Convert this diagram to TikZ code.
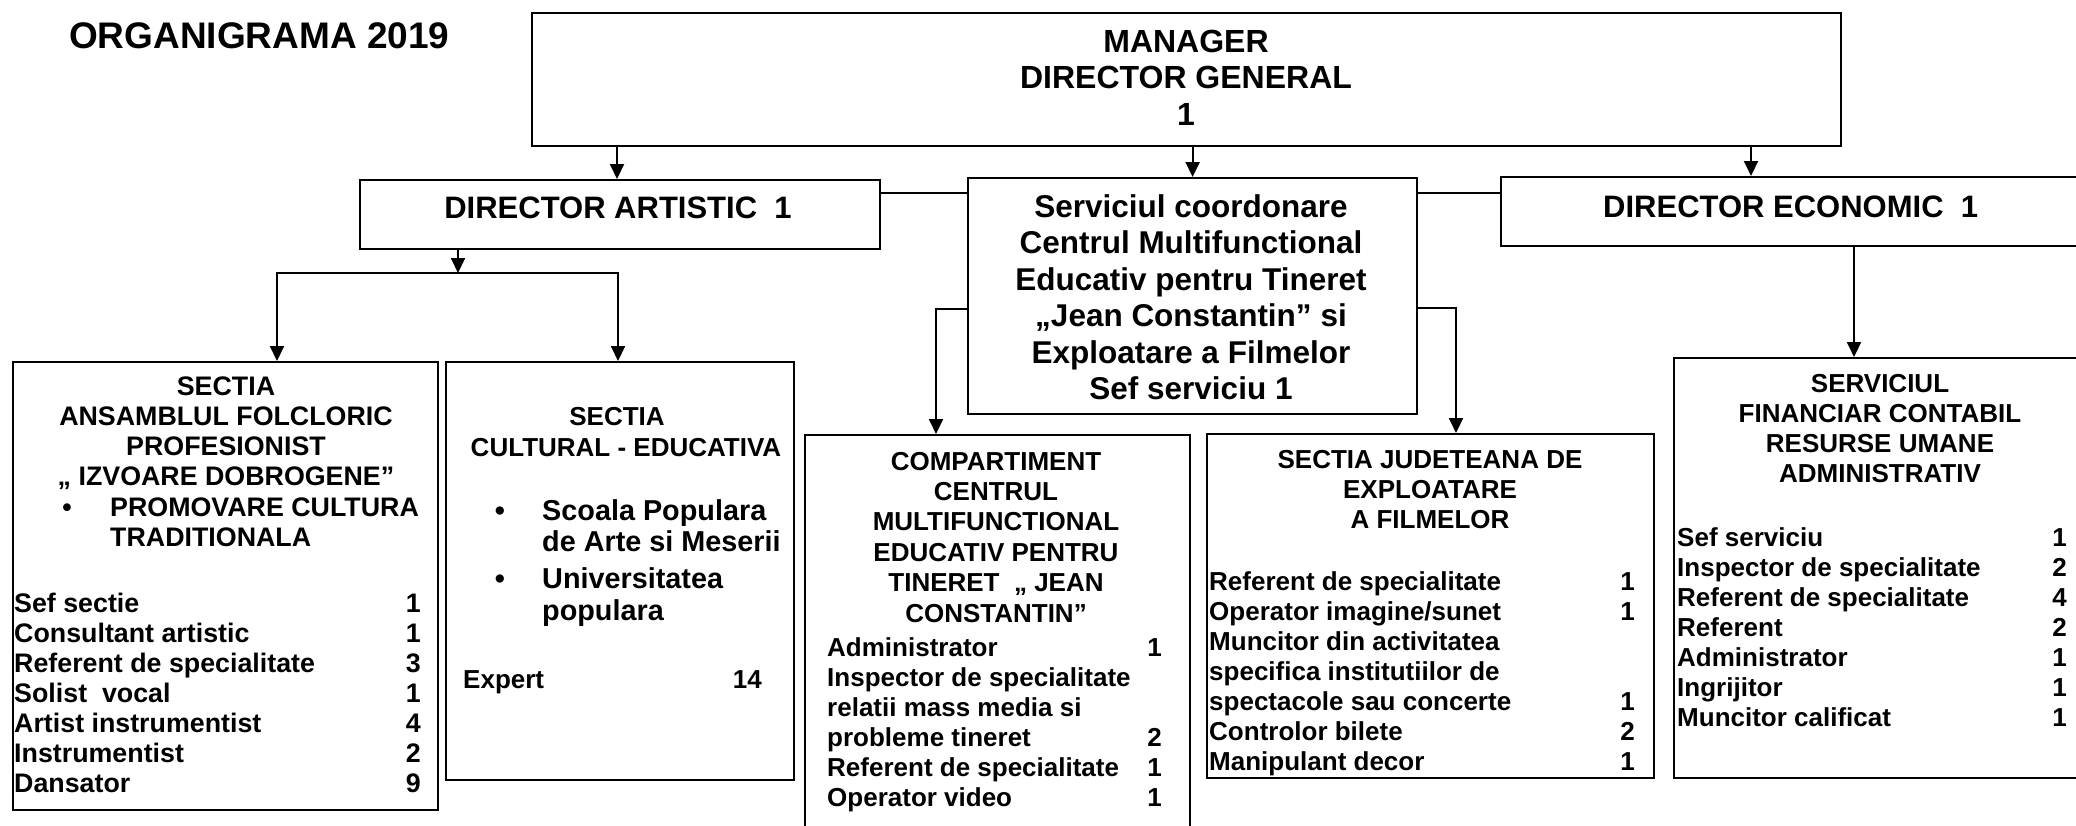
\documentclass[tikz,border=0pt]{standalone}
\usepackage{fontspec}
\setmainfont{Liberation Sans}
\usetikzlibrary{arrows.meta}
\newcommand\myitf{\bfseries\fontsize{26}{30}\selectfont}
\begin{document}
\begin{tikzpicture}[x=1pt,y=-1pt,
  box/.style={draw, line width=2.2pt, inner sep=0pt, anchor=north west},
  conn/.style={line width=2pt},
  arr/.style={conn, -{Triangle[length=15pt,width=14pt]}},
  hd/.style={inner sep=0pt, anchor=base, font=\myitf},
  it/.style={inner sep=0pt, anchor=base west, font=\myitf},
  nr/.style={inner sep=0pt, anchor=base east, font=\myitf},
  lf/.style={font=\bfseries\fontsize{26.8}{30}\selectfont},
  cb/.style={font=\bfseries\fontsize{28.8}{32}\selectfont},
  big/.style={font=\bfseries\fontsize{31.5}{36}\selectfont}]
\useasboundingbox (0,0) rectangle (2076,825);
\clip (0,0) rectangle (2076,825);
\fill[white] (0,0) rectangle (2076,825);

% title
\node[inner sep=0pt, anchor=base west, font=\bfseries\fontsize{37}{40}\selectfont] (title) at (69,48) {ORGANIGRAMA 2019};

% boxes
\node[box, minimum width=1309pt, minimum height=133pt] (mgr) at (531,12) {};
\node[box, minimum width=520pt, minimum height=69pt] (da) at (359,179) {};
\node[box, minimum width=449pt, minimum height=236pt] (svc) at (967,177) {};
\node[box, minimum width=620pt, minimum height=69pt] (de) at (1500,176) {};
\node[box, minimum width=425pt, minimum height=448pt] (sf) at (12,361) {};
\node[box, minimum width=348pt, minimum height=418pt] (sce) at (445,361) {};
\node[box, minimum width=385pt, minimum height=450pt] (comp) at (804,434) {};
\node[box, minimum width=447pt, minimum height=344pt] (jud) at (1206,433) {};
\node[box, minimum width=450pt, minimum height=420pt] (fin) at (1673,357) {};

% connectors
\coordinate (aDA) at (617,0);
\coordinate (aDE) at (1751,0);
\draw[arr] (aDA |- mgr.south) -- (aDA |- da.north);
\draw[arr] (svc.north |- mgr.south) -- (svc.north);
\draw[arr] (aDE |- mgr.south) -- (aDE |- de.north);
\draw[conn] (da.east |- 0,193) -- (svc.west |- 0,193);
\draw[conn] (svc.east |- 0,193) -- (de.west |- 0,193);
\coordinate (busM) at (458,273);
\coordinate (busL) at (277,273);
\coordinate (busR) at (618,273);
\draw[arr] (busM |- da.south) -- (busM);
\draw[arr] (busR) -- (busL) -- (busL |- sf.north);
\draw[arr] (busL) -- (busR) -- (busR |- sce.north);
\coordinate (cL) at (936,309);
\coordinate (cR) at (1456,308);
\draw[arr] (svc.west |- cL) -- (cL) -- (cL |- comp.north);
\draw[arr] (svc.east |- cR) -- (cR) -- (cR |- jud.north);
\coordinate (cE) at (1854,0);
\draw[arr] (cE |- de.south) -- (cE |- fin.north);

% manager
\foreach \t [count=\i] in {MANAGER,DIRECTOR GENERAL,1}
  \node[hd, font=\bfseries\fontsize{32}{36}\selectfont] (mgt\i) at (1186,{15.5+36.5*\i}) {\t};

% directors
\node[hd, font=\bfseries\fontsize{31}{36}\selectfont] (dat) at (618,218) {DIRECTOR ARTISTIC\ \ 1};
\node[it, font=\bfseries\fontsize{31}{36}\selectfont] (det) at (1603,217) {DIRECTOR ECONOMIC\ \ 1};

% serviciu coordonare
\foreach \t [count=\i] in {Serviciul coordonare,Centrul Multifunctional,Educativ pentru Tineret,„Jean Constantin” si,Exploatare a Filmelor,Sef serviciu 1}
  \node[hd, big] (svt\i) at (1191,{180.5+36.5*\i}) {\t};

% sectia ansamblul
\foreach \t [count=\i] in {SECTIA,ANSAMBLUL FOLCLORIC,PROFESIONIST,„ IZVOARE DOBROGENE”}
  \node[hd, lf] (sfh\i) at (226,{365+30*\i}) {\t};
\node[hd, lf] (sfb) at (67,516) {•};
\node[it, lf] (sfp1) at (110,516) {PROMOVARE CULTURA};
\node[it, lf] (sfp2) at (110,546) {TRADITIONALA};
\foreach \t [count=\i] in {Sef sectie,Consultant artistic,Referent de specialitate,Solist\ \ vocal,Artist instrumentist,Instrumentist,Dansator}
  \node[it, lf] (sfa\i) at (14,{582+30*\i}) {\t};
\foreach \n [count=\i] in {1,1,3,1,4,2,9}
  \node[nr, lf] (sfn\i) at (421,{582+30*\i}) {\n};

% sectia cultural
\node[hd] (sch1) at (617,425) {SECTIA};
\node[hd] (sch2) at (626,456) {CULTURAL - EDUCATIVA};
\node[hd, cb] (scb1) at (500,520) {•};
\node[it, cb] (sci1) at (542,520) {Scoala Populara};
\node[it, cb] (sci2) at (542,551) {de Arte si Meserii};
\node[hd, cb] (scb2) at (500,588) {•};
\node[it, cb] (sci3) at (542,588) {Universitatea};
\node[it, cb] (sci4) at (542,620) {populara};
\node[it] (sce1) at (463,688) {Expert};
\node[nr] (sce2) at (762,688) {14};

% compartiment
\foreach \t [count=\i] in {COMPARTIMENT,CENTRUL,MULTIFUNCTIONAL,EDUCATIV PENTRU,TINERET\ \ „ JEAN,CONSTANTIN”}
  \node[hd] (cph\i) at (996,{439.6+30.4*\i}) {\t};
\foreach \t [count=\i] in {Administrator,Inspector de specialitate,relatii mass media si,probleme tineret,Referent de specialitate,Operator video}
  \node[it] (cpa\i) at (827,{626+30*\i}) {\t};
\foreach \r/\n in {1/1,4/2,5/1,6/1}
  \node[nr] (cpn\r) at (1162,{626+30*\r}) {\n};

% sectia judeteana
\foreach \t [count=\i] in {SECTIA JUDETEANA DE,EXPLOATARE,A FILMELOR}
  \node[hd] (jdh\i) at (1430,{438.5+30*\i}) {\t};
\foreach \t [count=\i] in {Referent de specialitate,Operator imagine/sunet,Muncitor din activitatea,specifica institutiilor de,spectacole sau concerte,Controlor bilete,Manipulant decor}
  \node[it] (jda\i) at (1209,{560.5+30*\i}) {\t};
\foreach \r/\n in {1/1,2/1,5/1,6/2,7/1}
  \node[nr] (jdn\r) at (1635,{560.5+30*\r}) {\n};

% serviciul financiar
\foreach \t [count=\i] in {SERVICIUL,FINANCIAR CONTABIL,RESURSE UMANE,ADMINISTRATIV}
  \node[hd] (fnh\i) at (1880,{362+30*\i}) {\t};
\foreach \t [count=\i] in {Sef serviciu,Inspector de specialitate,Referent de specialitate,Referent,Administrator,Ingrijitor,Muncitor calificat}
  \node[it] (fna\i) at (1677,{516+30*\i}) {\t};
\foreach \n [count=\i] in {1,2,4,2,1,1,1}
  \node[nr] (fnn\i) at (2067,{516+30*\i}) {\n};
\end{tikzpicture}
\end{document}
